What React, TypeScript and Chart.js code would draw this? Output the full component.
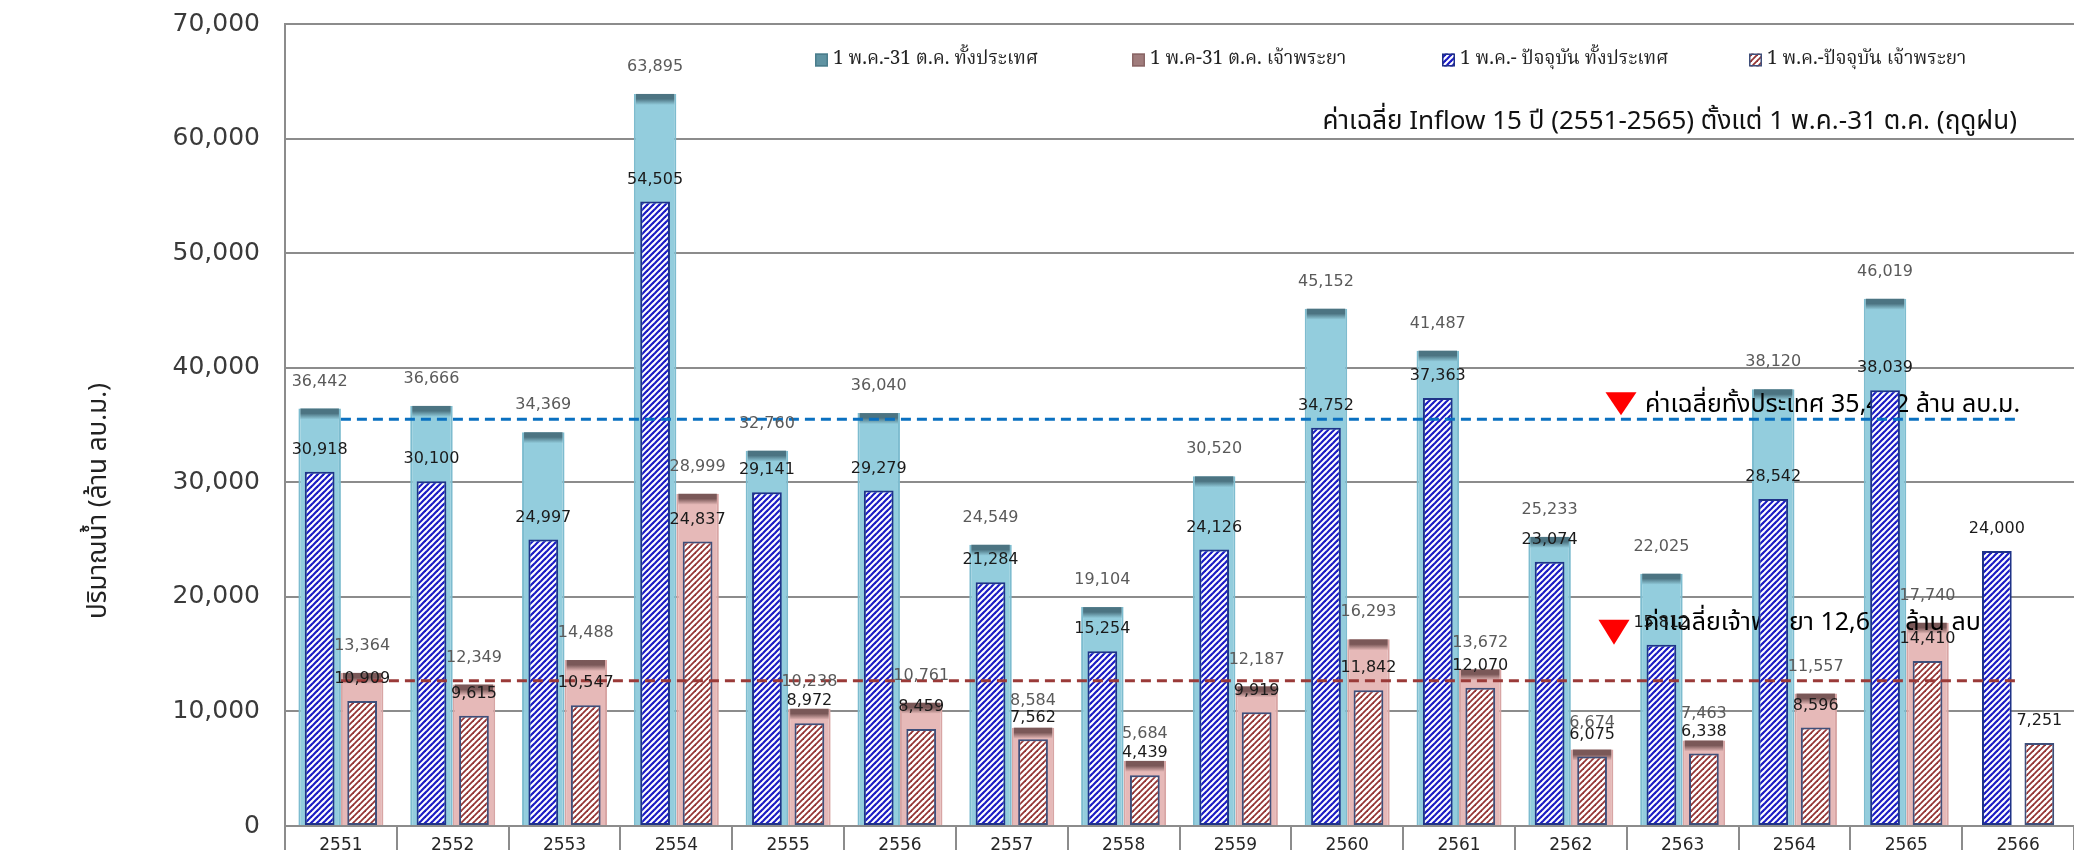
import React, { useEffect, useRef } from 'react';
import { Chart, registerables } from 'chart.js';

Chart.register(...registerables);

// ---------- data ----------
const years = ['2551', '2552', '2553', '2554', '2555', '2556', '2557', '2558', '2559', '2560', '2561', '2562', '2563', '2564', '2565', '2566'];
// 1 May - 31 Oct, whole country
const countrySeason = [36442, 36666, 34369, 63895, 32760, 36040, 24549, 19104, 30520, 45152, 41487, 25233, 22025, 38120, 46019, null];
// 1 May - 31 Oct, Chao Phraya
const chaoPhrayaSeason = [13364, 12349, 14488, 28999, 10238, 10761, 8584, 5684, 12187, 16293, 13672, 6674, 7463, 11557, 17740, null];
// 1 May - to date, whole country
const countryToDate = [30918, 30100, 24997, 54505, 29141, 29279, 21284, 15254, 24126, 34752, 37363, 23074, 15812, 28542, 38039, 24000];
// 1 May - to date, Chao Phraya
const chaoPhrayaToDate = [10909, 9615, 10547, 24837, 8972, 8459, 7562, 4439, 9919, 11842, 12070, 6075, 6338, 8596, 14410, 7251];

const avgCountry = 35492;
const avgChaoPhraya = 12670;
const avgCountryLine = years.map(() => avgCountry);
const avgChaoPhrayaLine = years.map(() => avgChaoPhraya);

const yTickValues = [0, 10000, 20000, 30000, 40000, 50000, 60000, 70000];

const seriesNames = [
  '1 พ.ค.-31 ต.ค. ทั้งประเทศ',
  '1 พ.ค-31 ต.ค. เจ้าพระยา',
  '1 พ.ค.- ปัจจุบัน ทั้งประเทศ',
  '1 พ.ค.-ปัจจุบัน เจ้าพระยา',
];
const yAxisTitle = 'ปริมาณน้ำ (ล้าน ลบ.ม.)';
const subtitleText = 'ค่าเฉลี่ย Inflow 15 ปี (2551-2565) ตั้งแต่ 1 พ.ค.-31 ต.ค. (ฤดูฝน)';
const avgCountryText = 'ค่าเฉลี่ยทั้งประเทศ 35,492 ล้าน ลบ.ม.';
const avgChaoPhrayaText = 'ค่าเฉลี่ยเจ้าพระยา 12,670 ล้าน ลบ.ม.';

// ---------- styles ----------
const THAI = '"Noto Sans Thai", "Noto Sans Thai UI", Tahoma, "DejaVu Sans", sans-serif';
const THAI_SERIF = '"Noto Serif Thai", "Noto Sans Thai", Tahoma, "DejaVu Serif", serif';
const NUM = '"DejaVu Sans", Verdana, sans-serif';
const GRID = '#8c8c8c';
const BLUE_FILL = '#93CDDD';
const BLUE_EDGE = '#7DBCCF';
const PINK_FILL = '#E6B9B8';
const PINK_EDGE = '#D8A5A4';

const fmt = (v: number) => v.toLocaleString('en-US');

function makeHatch(ctx: CanvasRenderingContext2D, color: string, lw: number, size: number) {
  const c = document.createElement('canvas');
  c.width = size;
  c.height = size;
  const g = c.getContext('2d')!;
  g.fillStyle = '#ffffff';
  g.fillRect(0, 0, size, size);
  g.strokeStyle = color;
  g.lineWidth = lw;
  for (const k of [0, size, 2 * size]) {
    g.beginPath();
    g.moveTo(-2, k + 2);
    g.lineTo(k + 2, -2);
    g.stroke();
  }
  return ctx.createPattern(c, 'repeat')!;
}

export default function App() {
  const ref = useRef<HTMLCanvasElement | null>(null);

  useEffect(() => {
    const canvas = ref.current!;
    const ctx0 = canvas.getContext('2d')!;
    const bluePattern = makeHatch(ctx0, '#1b1bc4', 2.2, 6);
    const redPattern = makeHatch(ctx0, '#943434', 1.8, 6);

    const topBands: Record<number, [string, string]> = {
      0: ['#4c7482', BLUE_FILL],
      1: ['#7a5858', PINK_FILL],
    };

    const drawAnnotations = (chart: any) => {
      const ctx = chart.ctx;
      const y = chart.scales.y;
      const yc = y.getPixelForValue(avgCountry);
      const ycp = y.getPixelForValue(avgChaoPhraya);
      const tri = (cx: number, top: number, w: number, h: number) => {
        ctx.beginPath();
        ctx.moveTo(cx - w / 2, top);
        ctx.lineTo(cx + w / 2, top);
        ctx.lineTo(cx, top + h);
        ctx.closePath();
        ctx.fill();
      };
      ctx.save();
      ctx.fillStyle = '#ff0000';
      tri(1621, yc - 27, 31, 23);
      tri(1614, ycp - 61, 31, 25);
      ctx.fillStyle = '#000000';
      ctx.font = `25px ${THAI}`;
      ctx.textAlign = 'left';
      ctx.textBaseline = 'middle';
      ctx.fillText(avgCountryText, 1645, yc - 12);
      ctx.fillText(avgChaoPhrayaText, 1644, ycp - 56);
      ctx.restore();
    };

    const barDecor = {
      id: 'barDecor',
      afterDatasetDraw(chart: any, args: any) {
        const band = topBands[args.index];
        if (!band) return;
        const ctx = chart.ctx;
        const data = chart.data.datasets[args.index].data;
        ctx.save();
        args.meta.data.forEach((el: any, i: number) => {
          if (data[i] == null) return;
          const { x, y, width, base } = el.getProps(['x', 'y', 'width', 'base'], true);
          const h = Math.min(11, base - y);
          const grad = ctx.createLinearGradient(0, y, 0, y + h);
          grad.addColorStop(0, band[0]);
          grad.addColorStop(0.45, band[0]);
          grad.addColorStop(1, band[1]);
          ctx.fillStyle = grad;
          ctx.fillRect(x - width / 2 + 2, y, width - 4, h);
        });
        ctx.restore();
        // wide bars are drawn (dataset 0 is the last of them): put the average
        // annotations above them but below the hatched bars
        if (args.index === 0) drawAnnotations(chart);
      },
    };

    const overlay = {
      id: 'overlay',
      afterDraw(chart: any) {
        const ctx = chart.ctx;
        ctx.save();
        // data labels
        const cfg: Array<[number, string, string, number]> = [
          [0, `16px ${NUM}`, '#5a5a5a', 27],
          [1, `16px ${NUM}`, '#5a5a5a', 27],
          [2, `16px ${NUM}`, '#1a1a1a', 22],
          [3, `16px ${NUM}`, '#1a1a1a', 22],
        ];
        ctx.textAlign = 'center';
        ctx.textBaseline = 'middle';
        for (const [di, font, color, off] of cfg) {
          const meta = chart.getDatasetMeta(di);
          const data = chart.data.datasets[di].data;
          ctx.font = font;
          ctx.fillStyle = color;
          meta.data.forEach((el: any, i: number) => {
            const v = data[i];
            if (v == null) return;
            ctx.fillText(fmt(v), el.x, el.y - off);
          });
        }

        // y axis title
        ctx.save();
        ctx.translate(101, 501);
        ctx.rotate(-Math.PI / 2);
        ctx.font = `26px ${THAI}`;
        ctx.fillStyle = '#222';
        ctx.fillText(yAxisTitle, 0, 0);
        ctx.restore();

        // subtitle
        ctx.font = `26px ${THAI}`;
        ctx.fillStyle = '#111';
        ctx.textAlign = 'right';
        ctx.fillText(subtitleText, 2017, 124);

        // legend
        const legendX = [815, 1132, 1442, 1749];
        const ly = 60;
        const box = 13;
        const fills: any[] = ['#5f93a2', '#a07c7c', bluePattern, redPattern];
        const edges = ['#4b7d8c', '#8a6666', '#1f2f88', '#3f4f7a'];
        ctx.textAlign = 'left';
        ctx.font = `19px ${THAI_SERIF}`;
        legendX.forEach((x, i) => {
          ctx.fillStyle = fills[i];
          ctx.fillRect(x, ly - box / 2, box, box);
          ctx.strokeStyle = edges[i];
          ctx.lineWidth = 1.5;
          ctx.strokeRect(x + 0.75, ly - box / 2 + 0.75, box - 1.5, box - 1.5);
          ctx.fillStyle = '#222';
          ctx.fillText(seriesNames[i], x + box + 5, ly + 1);
        });
        ctx.restore();
      },
    };

    const chart = new Chart(canvas, {
      data: {
        labels: years,
        datasets: [
          {
            type: 'bar',
            label: seriesNames[0],
            data: countrySeason,
            stack: 'country',
            backgroundColor: BLUE_FILL,
            borderColor: BLUE_EDGE,
            borderWidth: { left: 2, right: 2, top: 0, bottom: 0 },
            barPercentage: 1,
            categoryPercentage: 0.76,
            order: 3,
          },
          {
            type: 'bar',
            label: seriesNames[1],
            data: chaoPhrayaSeason,
            stack: 'cp',
            backgroundColor: PINK_FILL,
            borderColor: PINK_EDGE,
            borderWidth: { left: 2, right: 2, top: 0, bottom: 0 },
            barPercentage: 1,
            categoryPercentage: 0.76,
            order: 3,
          },
          {
            type: 'bar',
            label: seriesNames[2],
            data: countryToDate,
            stack: 'country',
            backgroundColor: bluePattern,
            borderColor: '#1f3388',
            borderWidth: 2,
            borderSkipped: false,
            barPercentage: 0.7,
            categoryPercentage: 0.76,
            order: 2,
          },
          {
            type: 'bar',
            label: seriesNames[3],
            data: chaoPhrayaToDate,
            stack: 'cp',
            backgroundColor: redPattern,
            borderColor: '#3f4f7a',
            borderWidth: 2,
            borderSkipped: false,
            barPercentage: 0.7,
            categoryPercentage: 0.76,
            order: 2,
          },
          {
            type: 'line',
            label: 'avgCountry',
            data: avgCountryLine,
            borderColor: '#0a70c0',
            borderWidth: 3,
            borderDash: [10, 6],
            pointRadius: 0,
            fill: false,
            order: 1,
          },
          {
            type: 'line',
            label: 'avgChaoPhraya',
            data: avgChaoPhrayaLine,
            borderColor: '#9a3a38',
            borderWidth: 3,
            borderDash: [10, 6],
            pointRadius: 0,
            fill: false,
            order: 1,
          },
        ],
      } as any,
      options: {
        animation: false,
        responsive: false,
        devicePixelRatio: 1,
        layout: { padding: { left: 0, right: 0, top: 24, bottom: 0 } },
        plugins: {
          legend: { display: false },
          tooltip: { enabled: false },
          title: { display: false },
        },
        scales: {
          x: {
            stacked: true,
            offset: true,
            grid: {
              offset: true,
              drawOnChartArea: false,
              drawTicks: true,
              tickLength: 24,
              color: GRID,
              lineWidth: 2,
            },
            border: { display: true, color: GRID, width: 2 },
            ticks: {
              autoSkip: false,
              maxRotation: 0,
              minRotation: 0,
              padding: -15,
              color: '#262626',
              font: { family: NUM, size: 17 },
            },
            afterFit: (s: any) => {
              s.height = 24;
              s.paddingLeft = 0;
              s.paddingRight = 0;
            },
          },
          y: {
            stacked: false,
            min: 0,
            max: 70000,
            grid: { color: GRID, lineWidth: 2, drawTicks: false },
            border: { display: true, color: GRID, width: 2 },
            ticks: {
              stepSize: 10000,
              padding: 25,
              color: '#3a3a3a',
              font: { family: NUM, size: 25 },
              callback: (v: any) => fmt(Number(v)),
            },
            afterBuildTicks: (s: any) => {
              s.ticks = yTickValues.map((v) => ({ value: v }));
            },
            afterFit: (s: any) => {
              s.width = 285;
              s.paddingTop = 0;
              s.paddingBottom = 0;
            },
          },
        },
      } as any,
      plugins: [barDecor, overlay],
    });

    return () => chart.destroy();
  }, []);

  return (
    <div style={{ position: 'absolute', left: 0, top: 0, width: 2074, height: 850, background: '#ffffff', overflow: 'hidden' }}>
      <canvas ref={ref} width={2074} height={850} style={{ display: 'block', width: 2074, height: 850 }} />
    </div>
  );
}
